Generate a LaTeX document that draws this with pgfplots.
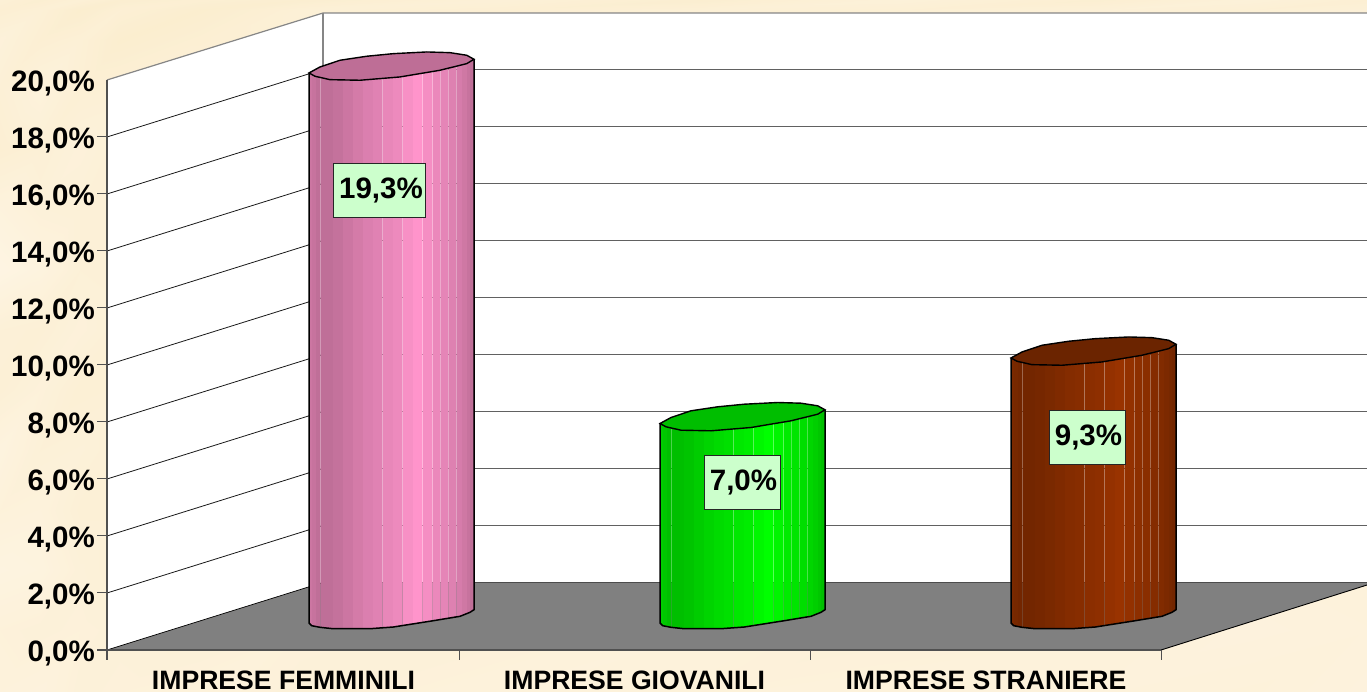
\documentclass[border=0pt]{standalone}
\usepackage{pgfplots}
\pgfplotsset{compat=1.18}
\usepackage{pgfplotstable}
\usepackage{fontspec}
\setmainfont{Liberation Sans}
\definecolor{pinkbar}{RGB}{255,148,203}
\definecolor{pinktop}{RGB}{190,110,150}
\definecolor{greenbar}{RGB}{0,255,0}
\definecolor{greentop}{RGB}{0,190,0}
\definecolor{brownbar}{RGB}{153,51,0}
\definecolor{browntop}{RGB}{107,36,0}
\definecolor{floorgrey}{RGB}{128,128,128}
\definecolor{wallgrey}{RGB}{134,134,134}
\definecolor{lblgreen}{RGB}{204,255,204}
\definecolor{axisdark}{RGB}{80,80,80}
\pgfplotstableread{
dx dy
0 0
6 -3.3
21 -6.7
51 -7.3
91 -4
131 2.7
157.7 9.3
165 13.7
157.7 17.7
141 20.3
117.7 21
84.3 19.3
57.7 16.7
31 12.7
11 6
0 0
}\ellipseshape
\pgfplotstableread{
dx dy lvl
0 0 1
0 0 0
2.7 -2.7 0
11 -4.3 0
24 -5.7 0
61 -5.7 0
84.3 -4 0
124.3 2.3 0
151 6.7 0
161 10.7 0
165 13.3 0
165 13.7 1
}\outlineshape
\pgfplotstableread{
px py c
0 0 .5
40 0 .65
80 0 .5
120 0 .7
200 0 .6
300 0 .7
500 0 .45
700 0 .7
900 0 .4
1100 0 .65
1250 0 .4
1367 0 .6
0 10 .6
40 10 .5
80 10 .75
120 10 .55
200 10 .75
300 10 .5
500 10 .6
700 10 .5
900 10 .55
1100 10 .45
1250 10 .55
1367 10 .45
0 40 .35
40 40 .6
80 40 .5
120 40 .75
200 40 .6
300 40 .5
500 40 .5
700 40 .5
900 40 .5
1100 40 .5
1250 40 .5
1367 40 .5
0 90 .5
40 90 .3
80 90 .55
120 90 .5
200 90 .5
300 90 .5
500 90 .5
700 90 .5
900 90 .5
1100 90 .5
1250 90 .5
1367 90 .5
0 150 .6
40 150 .5
80 150 .35
120 150 .5
200 150 .5
300 150 .5
500 150 .5
700 150 .5
900 150 .5
1100 150 .5
1250 150 .5
1367 150 .5
0 210 .25
40 210 .4
80 210 .45
120 210 .5
200 210 .5
300 210 .5
500 210 .5
700 210 .5
900 210 .5
1100 210 .5
1250 210 .5
1367 210 .5
0 270 .05
40 270 .2
80 270 .45
120 270 .5
200 270 .5
300 270 .5
500 270 .5
700 270 .5
900 270 .5
1100 270 .5
1250 270 .5
1367 270 .5
0 330 .45
40 330 .5
80 330 .35
120 330 .5
200 330 .5
300 330 .5
500 330 .5
700 330 .5
900 330 .5
1100 330 .5
1250 330 .5
1367 330 .5
0 390 .5
40 390 .35
80 390 .55
120 390 .5
200 390 .5
300 390 .5
500 390 .5
700 390 .5
900 390 .5
1100 390 .5
1250 390 .5
1367 390 .5
0 450 .2
40 450 .45
80 450 .4
120 450 .5
200 450 .5
300 450 .5
500 450 .5
700 450 .5
900 450 .5
1100 450 .5
1250 450 .5
1367 450 .5
0 510 .35
40 510 .3
80 510 .5
120 510 .5
200 510 .5
300 510 .5
500 510 .5
700 510 .5
900 510 .5
1100 510 .5
1250 510 .5
1367 510 .5
0 570 .15
40 570 .2
80 570 .4
120 570 .5
200 570 .45
300 570 .45
500 570 .45
700 570 .45
900 570 .5
1100 570 .5
1250 570 .35
1367 570 .35
0 630 .35
40 630 .4
80 630 .35
120 630 .4
200 630 .45
300 630 .35
500 630 .4
700 630 .3
900 630 .4
1100 630 .35
1250 630 .25
1367 630 .3
0 692 .3
40 692 .25
80 692 .4
120 692 .35
200 692 .3
300 692 .4
500 692 .3
700 692 .35
900 692 .3
1100 692 .3
1250 692 .35
1367 692 .25
}\bgtable
% one cylinder: left edge in px, value in %, body colour, top colour
\newcommand{\cylinder}[4]{%
  \foreach \a/\b/\ba/\bb/\ta/\tb/\i in {
    0/3/0/-2.8/0/-0.6/80,
    3/6.8/-2.8/-3.5/-0.6/-2.5/78,
    7/11.1/-3.5/-4.3/-2.5/-3.5/75,
    11.3/24/-4.3/-5.7/-3.5/-5.8/75,
    24/34/-5.7/-5.7/-5.8/-6/77,
    34/44/-5.7/-5.7/-6/-6.1/80,
    44/54/-5.7/-5.7/-6.1/-6.1/83,
    54/64/-5.7/-5.5/-6.1/-5.2/86,
    64/73.7/-5.5/-4.8/-5.2/-4.2/88,
    74/84/-4.8/-4/-4.1/-3.6/91,
    84/93.7/-4/-2.6/-3.6/-2.6/93,
    94/104/-2.5/-0.9/-2.5/-0.8/97,
    104/113.7/-0.9/0.6/-0.8/0.7/100,
    114/123.7/0.7/2.2/0.8/2.4/96,
    124/131.1/2.3/3.4/2.5/3.7/92,
    131.4/139.1/3.5/4.7/3.8/5.7/90,
    139.4/147.1/4.8/6/5.8/7.6/87,
    147.4/152.8/6.1/7.4/7.7/9/84,
    153/157.8/7.5/9.4/9.1/10.3/81,
    158/161/9.5/10.7/10.4/12.5/78,
    161/165/10.7/13.3/12.5/13.7/75}{%
    \pgfmathsetmacro{\xa}{#1+\a}%
    \pgfmathsetmacro{\xb}{#1+\b}%
    \pgfmathsetmacro{\ya}{0.947+\ba/28.5}%
    \pgfmathsetmacro{\yb}{0.947+\bb/28.5}%
    \pgfmathsetmacro{\yc}{0.947+#2+\tb/28.5}%
    \pgfmathsetmacro{\yd}{0.947+#2+\ta/28.5}%
    \edef\tmp{\noexpand\addplot[fill=#3!\i!black,draw=none,forget plot] coordinates {(\xa,\ya)(\xb,\yb)(\xb,\yc)(\xa,\yd)} -- cycle;}%
    \tmp
  }
  \addplot[black,line width=1.5pt,no markers,forget plot] table[x expr=\thisrow{dx}+#1,y expr=0.947+\thisrow{dy}/28.5+\thisrow{lvl}*#2] {\outlineshape};
  \addplot[fill=#4,draw=black,line width=1.4pt,no markers,forget plot] table[x expr=\thisrow{dx}+#1,y expr=0.947+#2+\thisrow{dy}/28.5] {\ellipseshape} -- cycle;
}
\begin{document}
\begin{tikzpicture}
\begin{axis}[
  at={(0,0)},anchor=south west,
  scale only axis,width=1367pt,height=692pt,
  xmin=0,xmax=1367,
  ymin=-1.47368,ymax=22.80702,
  axis on top,
  axis line style={draw=none},
  major tick length=0pt,
  tick style={draw=none},
  xtick={283.5,634.5,986},
  xticklabels={IMPRESE FEMMINILI,IMPRESE GIOVANILI,IMPRESE STRANIERE},
  ytick={0,2,4,6,8,10,12,14,16,18,20},
  yticklabels={{0,0\%},{2,0\%},{4,0\%},{6,0\%},{8,0\%},{10,0\%},{12,0\%},{14,0\%},{16,0\%},{18,0\%},{20,0\%}},
  yticklabel style={anchor=east,inner sep=0pt,xshift=95pt,yshift=-3.5pt,font=\fontsize{29.5}{30}\selectfont\bfseries,text=black},
  xticklabel style={anchor=base,inner sep=0pt,yshift=2pt,font=\fontsize{26.6}{28}\selectfont\bfseries,text=black},
  colormap={bg}{rgb255=(254,245,228) rgb255=(250,235,200)},
  point meta min=0,point meta max=1,
]
% background
\addplot[surf,shader=interp,mesh/cols=12,point meta=\thisrow{c},forget plot]
  table[x=px,y expr=(650-\thisrow{py})/28.5] {\bgtable};
% walls and floor
\addplot[fill=white,draw=none,forget plot] coordinates {(107,20)(323,22.35)(1367,22.35)(1367,2.37)(323,2.37)(107,0)} -- cycle;
\addplot[fill=floorgrey,draw=none,forget plot] coordinates {(107,0)(1161,0)(1367,2.28)(1367,2.37)(323,2.37)} -- cycle;
% grid: back wall
\addplot[black!62,line width=1.1pt,forget plot] coordinates {(323,4.37)(1367,4.37)};
\addplot[black!62,line width=1.1pt,forget plot] coordinates {(323,6.37)(1367,6.37)};
\addplot[black!62,line width=1.1pt,forget plot] coordinates {(323,8.37)(1367,8.37)};
\addplot[black!62,line width=1.1pt,forget plot] coordinates {(323,10.37)(1367,10.37)};
\addplot[black!62,line width=1.1pt,forget plot] coordinates {(323,12.37)(1367,12.37)};
\addplot[black!62,line width=1.1pt,forget plot] coordinates {(323,14.37)(1367,14.37)};
\addplot[black!62,line width=1.1pt,forget plot] coordinates {(323,16.37)(1367,16.37)};
\addplot[black!62,line width=1.1pt,forget plot] coordinates {(323,18.37)(1367,18.37)};
\addplot[black!62,line width=1.1pt,forget plot] coordinates {(323,20.37)(1367,20.37)};
% grid: side wall
\addplot[black!90,line width=0.8pt,forget plot] coordinates {(107,2)(323,4.37)};
\addplot[black!90,line width=0.8pt,forget plot] coordinates {(107,4)(323,6.37)};
\addplot[black!90,line width=0.8pt,forget plot] coordinates {(107,6)(323,8.37)};
\addplot[black!90,line width=0.8pt,forget plot] coordinates {(107,8)(323,10.37)};
\addplot[black!90,line width=0.8pt,forget plot] coordinates {(107,10)(323,12.37)};
\addplot[black!90,line width=0.8pt,forget plot] coordinates {(107,12)(323,14.37)};
\addplot[black!90,line width=0.8pt,forget plot] coordinates {(107,14)(323,16.37)};
\addplot[black!90,line width=0.8pt,forget plot] coordinates {(107,16)(323,18.37)};
\addplot[black!90,line width=0.8pt,forget plot] coordinates {(107,18)(323,20.37)};
% wall edges
\addplot[wallgrey,line width=1.2pt,forget plot] coordinates {(107,20)(323,22.35)(1367,22.35)};
\addplot[wallgrey,line width=1.2pt,forget plot] coordinates {(323,22.35)(323,2.37)};
\addplot[black!70,line width=1.3pt,forget plot] coordinates {(323,2.37)(1367,2.37)};
\addplot[black,line width=0.9pt,forget plot] coordinates {(1161,0)(1367,2.28)};
\addplot[black,line width=0.7pt,forget plot] coordinates {(107,0)(323,2.37)};
% axes and ticks
\addplot[axisdark,line width=1.6pt,forget plot] coordinates {(107,20)(107,-0.35)};
\addplot[axisdark,line width=1.6pt,forget plot] coordinates {(97,0)(1161,0)};
\addplot[axisdark,line width=1pt,forget plot] coordinates {(459,0)(459,-0.35)};
\addplot[axisdark,line width=1pt,forget plot] coordinates {(810,0)(810,-0.35)};
\addplot[axisdark,line width=1pt,forget plot] coordinates {(1161,0)(1161,-0.35)};
\addplot[axisdark,line width=1pt,forget plot] coordinates {(97,2)(107,2)};
\addplot[axisdark,line width=1pt,forget plot] coordinates {(97,4)(107,4)};
\addplot[axisdark,line width=1pt,forget plot] coordinates {(97,6)(107,6)};
\addplot[axisdark,line width=1pt,forget plot] coordinates {(97,8)(107,8)};
\addplot[axisdark,line width=1pt,forget plot] coordinates {(97,10)(107,10)};
\addplot[axisdark,line width=1pt,forget plot] coordinates {(97,12)(107,12)};
\addplot[axisdark,line width=1pt,forget plot] coordinates {(97,14)(107,14)};
\addplot[axisdark,line width=1pt,forget plot] coordinates {(97,16)(107,16)};
\addplot[axisdark,line width=1pt,forget plot] coordinates {(97,18)(107,18)};
% cylinders
\cylinder{309}{19.3}{pinkbar}{pinktop}
\cylinder{660}{7.0}{greenbar}{greentop}
\cylinder{1011}{9.3}{brownbar}{browntop}
% value labels
\node[draw=black!85,line width=1pt,fill=lblgreen,minimum width=92pt,minimum height=54pt,inner sep=0pt,font=\fontsize{29.5}{30}\selectfont\bfseries] at (axis cs:379.5,16.14) {\hspace*{3pt}\raisebox{-7pt}{19,3\%}};
\node[draw=black!85,line width=1pt,fill=lblgreen,minimum width=76pt,minimum height=54pt,inner sep=0pt,font=\fontsize{29.5}{30}\selectfont\bfseries] at (axis cs:742,5.89) {\hspace*{3pt}\raisebox{-7pt}{7,0\%}};
\node[draw=black!85,line width=1pt,fill=lblgreen,minimum width=76pt,minimum height=54pt,inner sep=0pt,font=\fontsize{29.5}{30}\selectfont\bfseries] at (axis cs:1087,7.46) {\hspace*{3pt}\raisebox{-7pt}{9,3\%}};
\end{axis}
\pgfresetboundingbox
\path[use as bounding box] (0,0) rectangle (1367pt,692pt);
\end{tikzpicture}
\end{document}
